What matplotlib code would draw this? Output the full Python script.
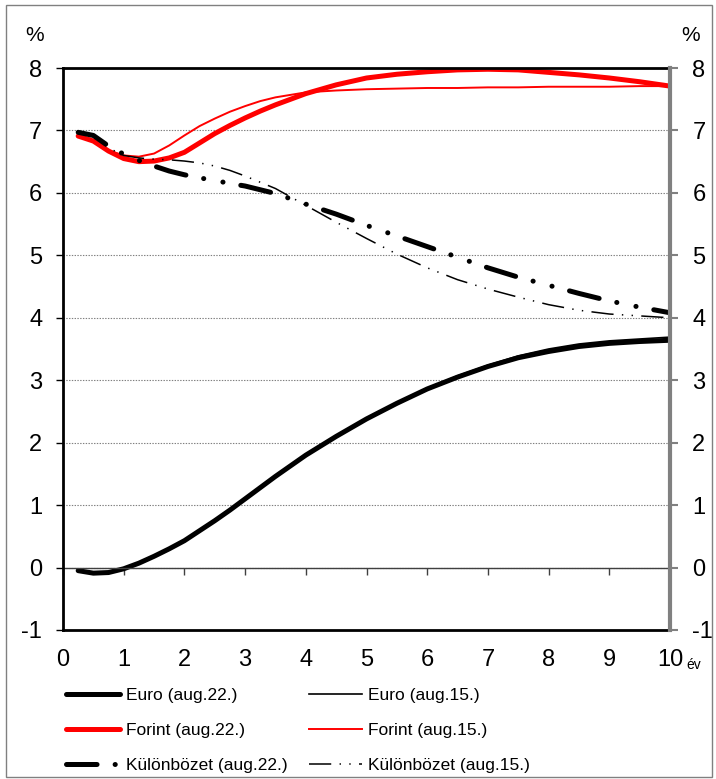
import matplotlib
matplotlib.use('Agg')
import matplotlib.pyplot as plt
from matplotlib.patches import Rectangle

plt.rcParams['font.family'] = ['Liberation Sans', 'DejaVu Sans']
plt.rcParams['lines.scale_dashes'] = False
plt.rcParams['axes.unicode_minus'] = False

# maturity (years)
years = [0.25, 0.5, 0.75, 1, 1.25, 1.5, 1.75, 2, 2.25, 2.5, 2.75, 3, 3.25, 3.5, 4, 4.5,
         5, 5.5, 6, 6.5, 7, 7.5, 8, 8.5, 9, 9.5, 10]

euro_22 = [-0.05, -0.09, -0.08, -0.02, 0.07, 0.18, 0.3, 0.43, 0.59, 0.75, 0.92, 1.1, 1.28,
           1.46, 1.8, 2.1, 2.38, 2.63, 2.86, 3.05, 3.22, 3.36, 3.46, 3.54, 3.59, 3.62, 3.64]
euro_15 = [-0.05, -0.09, -0.08, -0.02, 0.07, 0.18, 0.3, 0.43, 0.59, 0.76, 0.93, 1.11, 1.29,
           1.47, 1.81, 2.11, 2.39, 2.64, 2.87, 3.07, 3.24, 3.39, 3.5, 3.58, 3.63, 3.66, 3.69]
forint_22 = [6.91, 6.83, 6.67, 6.55, 6.5, 6.51, 6.56, 6.65, 6.8, 6.95, 7.08, 7.2, 7.31,
             7.41, 7.59, 7.73, 7.84, 7.9, 7.94, 7.97, 7.98, 7.97, 7.93, 7.89, 7.84, 7.78, 7.71]
forint_15 = [6.91, 6.83, 6.68, 6.6, 6.58, 6.63, 6.76, 6.92, 7.07, 7.19, 7.3, 7.39, 7.47,
             7.53, 7.61, 7.64, 7.66, 7.67, 7.68, 7.68, 7.69, 7.69, 7.7, 7.7, 7.7, 7.71, 7.71]
kul_22 = [6.97, 6.92, 6.75, 6.62, 6.52, 6.43, 6.35, 6.29, 6.24, 6.2, 6.15, 6.11, 6.05,
          5.99, 5.82, 5.66, 5.48, 5.31, 5.14, 4.97, 4.8, 4.65, 4.52, 4.39, 4.27, 4.17, 4.08]
kul_15 = [6.97, 6.9, 6.72, 6.6, 6.56, 6.54, 6.53, 6.51, 6.48, 6.43, 6.36, 6.27, 6.17,
          6.07, 5.8, 5.53, 5.27, 5.02, 4.8, 4.61, 4.46, 4.33, 4.21, 4.12, 4.06, 4.03, 4.0]

xticks = list(range(0, 11))
yticks = list(range(-1, 9))

fig = plt.figure(figsize=(7.16, 7.79), dpi=100)
ax = fig.add_axes([0.088, 0.1913, 0.8478, 0.7214])

l1, = ax.plot(years, euro_22, color='black', lw=3.6, label='Euro (aug.22.)', solid_capstyle='round')
l2, = ax.plot(years, euro_15, color='black', lw=1.2, label='Euro (aug.15.)')
l3, = ax.plot(years, forint_22, color='#ff0000', lw=3.6, label='Forint (aug.22.)', solid_capstyle='round')
l4, = ax.plot(years, forint_15, color='#ff0000', lw=1.4, label='Forint (aug.15.)')
l5, = ax.plot(years, kul_22, color='black', lw=3.6, label='Különbözet (aug.22.)',
              dashes=(22, 13, 0.1, 14, 0.1, 13), dash_capstyle='round')
l6, = ax.plot(years, kul_15, color='black', lw=1.1, label='Különbözet (aug.15.)',
              dashes=(16, 6, 1, 6, 1, 6))

ax.set_xlim(0, 10)
ax.set_ylim(-1, 8)
ax.set_xticks(xticks)
ax.set_yticks(yticks)
ax.tick_params(axis='x', length=0, pad=14, labelsize=17)
ax.tick_params(axis='y', direction='out', length=5, width=1, pad=10, labelsize=17)
ax.grid(axis='y', color='#808080', linestyle=(0, (1, 1)), lw=0.8)
ax.axhline(0, color='#404040', lw=1)

for side in ['left', 'top', 'bottom']:
    ax.spines[side].set_linewidth(2)
    ax.spines[side].set_color('black')
ax.spines['right'].set_visible(False)

# ticks along the zero line
sec = ax.secondary_xaxis(1 / 9)
sec.set_xticks(xticks)
sec.tick_params(direction='out', length=5, width=1, color='#404040', labelbottom=False)
sec.spines['bottom'].set_visible(False)

ax2 = ax.twinx()
ax2.set_ylim(-1, 8)
ax2.set_yticks(yticks)
ax2.tick_params(axis='y', direction='out', length=6, width=1.5, color='#808080', pad=10, labelsize=17)
for side in ['left', 'top', 'bottom']:
    ax2.spines[side].set_visible(False)
ax2.spines['right'].set_color('#808080')
ax2.spines['right'].set_linewidth(3)

fig.text(0.035, 0.955, '%', fontsize=15, ha='left', va='center')
fig.text(0.978, 0.955, '%', fontsize=15, ha='right', va='center')
fig.text(0.958, 0.146, 'év', fontsize=10, ha='left', va='center')

leg_kw = dict(frameon=False, fontsize=12.5, handlelength=3.1, handletextpad=0.35,
              labelspacing=1.15, borderpad=0, borderaxespad=0, loc='upper left')
fig.legend(handles=[l1, l3, l5], bbox_to_anchor=(0.092, 0.117), **leg_kw)
fig.legend(handles=[l2, l4, l6], bbox_to_anchor=(0.431, 0.117), **leg_kw)

fig.patches.append(Rectangle((0.008, 0.003), 0.986, 0.99, transform=fig.transFigure,
                             fill=False, edgecolor='#808080', lw=1))

fig.savefig('out.png', dpi=100)
